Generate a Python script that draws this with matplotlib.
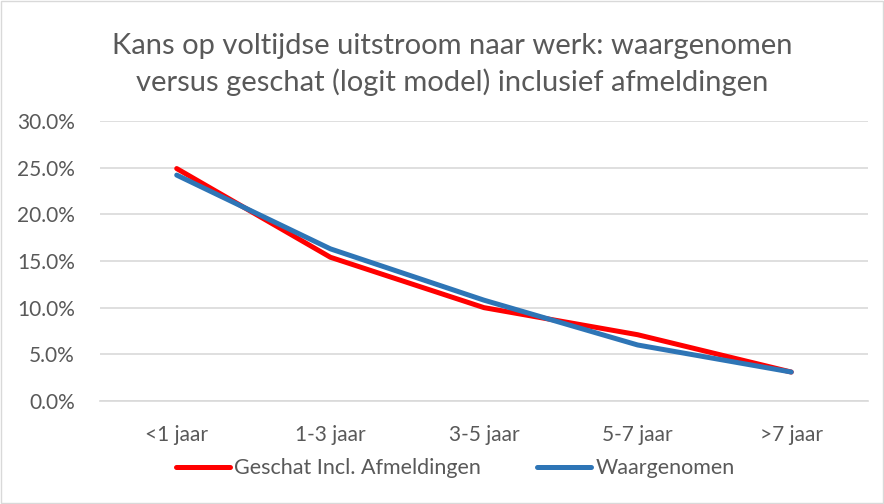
import matplotlib.pyplot as plt
from matplotlib.patches import Rectangle
from matplotlib.ticker import FuncFormatter

plt.rcParams["font.family"] = ["Lato", "DejaVu Sans"]

categories = ["<1 jaar", "1-3 jaar", "3-5 jaar", "5-7 jaar", ">7 jaar"]
geschat = [24.9, 15.4, 10.0, 7.1, 3.1]
waargenomen = [24.2, 16.3, 10.8, 6.0, 3.1]

text_color = "#595959"

fig = plt.figure(figsize=(8.84, 5.04), dpi=100)
ax = fig.add_axes([0.113, 0.2044, 0.869, 0.5556])

x = range(len(categories))
ax.plot(x, geschat, color="#ff0000", lw=3.6, solid_capstyle="round",
        label="Geschat Incl. Afmeldingen", zorder=3)
ax.plot(x, waargenomen, color="#2e75b6", lw=3.6, solid_capstyle="round",
        label="Waargenomen", zorder=4)

ax.set_xlim(-0.5, len(categories) - 0.5)
ax.set_ylim(0, 30)
ax.set_yticks(range(0, 31, 5))
ax.yaxis.set_major_formatter(FuncFormatter(lambda v, p: f"{v:.1f}%"))
ax.set_xticks(list(x))
ax.set_xticklabels(categories)
ax.grid(axis="y", color="#d9d9d9", lw=1.2)
ax.set_axisbelow(True)
for s in ["top", "right", "left"]:
    ax.spines[s].set_visible(False)
ax.spines["bottom"].set_color("#d9d9d9")
ax.spines["bottom"].set_linewidth(1.2)
ax.tick_params(length=0, labelsize=15, colors=text_color)
ax.tick_params(axis="x", pad=17)
ax.tick_params(axis="y", pad=18)

fig.text(0.512, 0.872, "Kans op voltijdse uitstroom naar werk: waargenomen\nversus geschat (logit model) inclusief afmeldingen",
         ha="center", va="center", fontsize=21, color=text_color, linespacing=1.38)

fig.legend(loc="center", bbox_to_anchor=(0.515, 0.071), ncol=2, frameon=False,
           fontsize=15.5, labelcolor=text_color, handlelength=2.5, handletextpad=0.2,
           columnspacing=2.6)

fig.add_artist(Rectangle((0.001, 0.001), 0.998, 0.997, transform=fig.transFigure,
                         fill=False, edgecolor="#d9d9d9", lw=1))

fig.savefig("out.png", dpi=100)
